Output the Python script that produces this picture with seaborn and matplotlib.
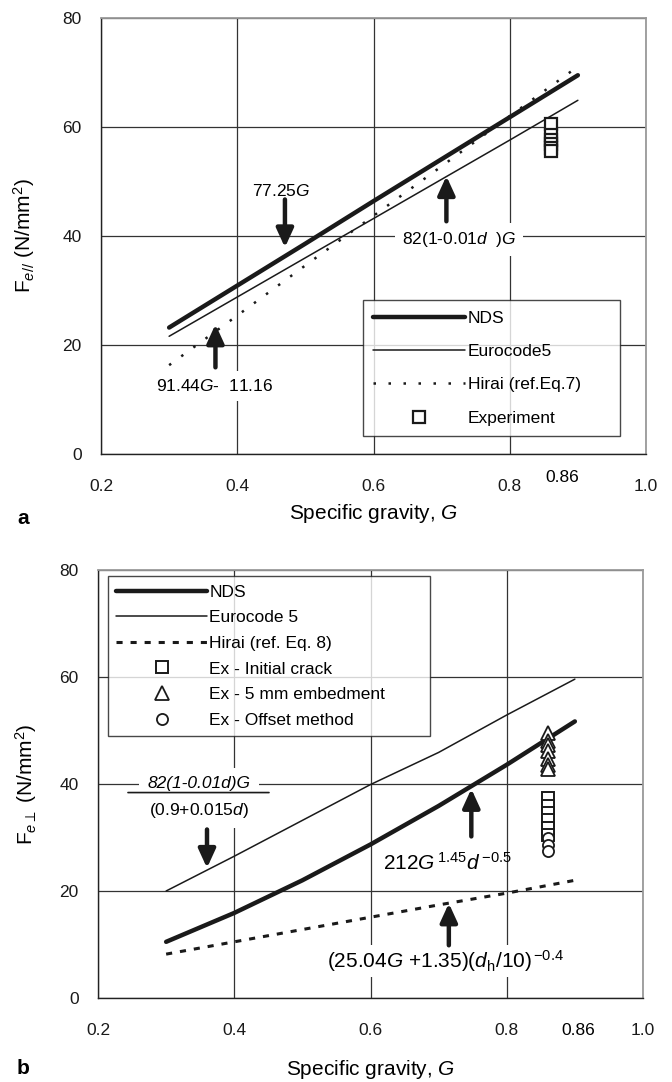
import numpy as np
import matplotlib
matplotlib.use("Agg")
import matplotlib.pyplot as plt
import matplotlib.transforms as mtransforms
import seaborn as sns

# valores
G = [0.3, 0.4, 0.5, 0.6, 0.7, 0.8, 0.9]
G_exp = 0.86

# panel a: resistencia paralela
nds_a = [23.2, 30.9, 38.6, 46.4, 54.1, 61.8, 69.5]
euro_a = [21.6, 28.8, 36.0, 43.2, 50.4, 57.6, 64.9]
hirai_a = [16.3, 25.4, 34.6, 43.7, 52.8, 62.0, 71.1]
exp_a = [60.5, 58.5, 57.6, 56.8, 56.2, 55.6]

# panel b: resistencia perpendicular
nds_b = [10.5, 15.9, 22.0, 28.7, 35.9, 43.6, 51.7]
euro_b = [20.0, 26.5, 33.2, 39.9, 45.9, 52.9, 59.6]
hirai_b = [8.2, 10.5, 12.8, 15.1, 17.4, 19.6, 22.0]
crack_b = [37.4, 35.9, 34.6, 33.3, 31.8, 30.5]
embed_b = [49.5, 48.0, 47.2, 46.2, 44.7, 43.6, 42.8]
offset_b = [29.9, 28.6, 27.5]

xticks = [0.2, 0.4, 0.6, 0.8, 1.0]
xticklabels = ["0.2", "0.4", "0.6", "0.8", "1.0"]
yticks = [0, 20, 40, 60, 80]

sns.set_theme(style="white")
plt.rcParams["font.family"] = ["Liberation Sans", "DejaVu Sans"]
plt.rcParams["mathtext.fontset"] = "custom"
plt.rcParams["mathtext.rm"] = "Liberation Sans"
plt.rcParams["mathtext.it"] = "Liberation Sans:italic"
plt.rcParams["mathtext.bf"] = "Liberation Sans:bold"
plt.rcParams["text.color"] = "black"
plt.rcParams["axes.labelcolor"] = "black"
plt.rcParams["xtick.color"] = "black"
plt.rcParams["ytick.color"] = "black"

fig = plt.figure(figsize=(6.72, 10.82), dpi=100)
ax_a = fig.add_axes([101 / 672, 1 - 454 / 1082, 545 / 672, 436 / 1082])
ax_b = fig.add_axes([98 / 672, 1 - 998 / 1082, 545 / 672, 428 / 1082])

flecha = dict(arrowstyle="-|>,head_length=0.7,head_width=0.32", lw=3.2,
              color="k", shrinkA=0, shrinkB=0, mutation_scale=16)


def preparar_ejes(ax, ylabel, ylab_x, xlab_y):
    ax.set_xlim(0.2, 1.0)
    ax.set_ylim(0, 80)
    ax.set_xticks(xticks)
    ax.set_xticklabels(xticklabels)
    ax.set_yticks(yticks)
    ax.set_xticks([G_exp], minor=True)
    ax.tick_params(axis="both", which="major", direction="out", length=6,
                   width=1, color="#222222", labelsize=12.5, labelcolor="k")
    ax.tick_params(axis="x", which="major", pad=12)
    ax.tick_params(axis="y", which="major", pad=8)
    ax.grid(True, which="major", color="#333333", lw=0.9)
    ax.set_axisbelow(True)
    for lado in ["top", "right"]:
        ax.spines[lado].set_color("#9a9a9a")
        ax.spines[lado].set_linewidth(1.3)
    for lado in ["left", "bottom"]:
        ax.spines[lado].set_color("#222222")
        ax.spines[lado].set_linewidth(1.0)
    ax.set_xlabel("Specific gravity, $G$", fontsize=15)
    ax.set_ylabel(ylabel, fontsize=15)
    ax.xaxis.set_label_coords(0.5, xlab_y)
    ax.yaxis.set_label_coords(ylab_x, 0.5)


# ---------------- panel a ----------------
ax = ax_a
sns.lineplot(x=G, y=nds_a, ax=ax, color="k", lw=3.2, label="NDS")
sns.lineplot(x=G, y=euro_a, ax=ax, color="k", lw=1.1, label="Eurocode5")
sns.lineplot(x=G, y=hirai_a, ax=ax, color="k", lw=1.8,
             linestyle=(0, (1, 5)), label="Hirai (ref.Eq.7)")
sns.lineplot(x=[G_exp] * len(exp_a), y=exp_a, ax=ax, estimator=None, sort=False,
             marker="s", linestyle="", ms=8.5, mfc="white", mec="k", mew=1.6,
             color="k", label="Experiment")
preparar_ejes(ax, "F$_{e//}$ (N/mm$^2$)", -0.118, -0.11)
ax.tick_params(axis="x", which="minor", direction="inout", length=9,
               width=1.2, color="k")

leg = ax.legend(loc="upper left", bbox_to_anchor=(0.48, 0.353, 0.473, 0.0),
                mode="expand", borderaxespad=0, fontsize=12.5, handlelength=5.3,
                handletextpad=0.15, labelspacing=1.05, borderpad=0.6,
                frameon=True, fancybox=False, edgecolor="k")
leg.get_frame().set_linewidth(1.0)

ax.text(0.464, 48.2, "77.25$G$", fontsize=12.5, ha="center", va="center")
ax.annotate("", xy=(0.47, 37.9), xytext=(0.47, 46.7), arrowprops=flecha)
ax.text(0.726, 39.4, "82(1-0.01$d$  )$G$", fontsize=12.5, ha="center", va="center",
        bbox=dict(facecolor="white", edgecolor="none", pad=5))
ax.annotate("", xy=(0.707, 51.0), xytext=(0.707, 42.7), arrowprops=flecha)
ax.text(0.366, 12.5, "91.44$G$-  11.16", fontsize=12.5, ha="center", va="center",
        bbox=dict(facecolor="white", edgecolor="none", pad=5))
ax.annotate("", xy=(0.368, 23.8), xytext=(0.368, 15.9), arrowprops=flecha)

trans_a = mtransforms.blended_transform_factory(ax.transData, ax.transAxes)
ax.text(0.877, -0.054, "0.86", transform=trans_a, fontsize=12.5,
        ha="center", va="center")

# ---------------- panel b ----------------
ax = ax_b
sns.lineplot(x=G, y=nds_b, ax=ax, color="k", lw=3.2, label="NDS")
sns.lineplot(x=G, y=euro_b, ax=ax, color="k", lw=1.1, label="Eurocode 5")
sns.lineplot(x=G, y=hirai_b, ax=ax, color="k", lw=2.2,
             linestyle=(0, (2, 2.6)), label="Hirai (ref. Eq. 8)")
sns.lineplot(x=[G_exp] * len(crack_b), y=crack_b, ax=ax, estimator=None, sort=False,
             marker="s", linestyle="", ms=8, mfc="white", mec="k", mew=1.4,
             color="k", label="Ex - Initial crack")
sns.lineplot(x=[G_exp] * len(embed_b), y=embed_b, ax=ax, estimator=None, sort=False,
             marker="^", linestyle="", ms=10, mfc="white", mec="k", mew=1.3,
             color="k", label="Ex - 5 mm embedment")
sns.lineplot(x=[G_exp] * len(offset_b), y=offset_b, ax=ax, estimator=None, sort=False,
             marker="o", linestyle="", ms=8, mfc="white", mec="k", mew=1.3,
             color="k", label="Ex - Offset method")
preparar_ejes(ax, r"F$_{e\perp}$ (N/mm$^2$)", -0.108, -0.14)
ax.tick_params(axis="x", which="minor", direction="inout", length=16,
               width=1.2, color="k")

leg = ax.legend(loc="upper left", bbox_to_anchor=(0.018, 0.986, 0.591, 0.0),
                mode="expand", borderaxespad=0, fontsize=12.5, handlelength=5.2,
                handletextpad=0.15, labelspacing=0.6, borderpad=0.5,
                frameon=True, fancybox=False, edgecolor="k")
leg.get_frame().set_linewidth(1.0)

ax.text(0.348, 40.1, "82(1-0.01d)G", fontsize=12.5, style="italic",
        ha="center", va="center",
        bbox=dict(facecolor="white", edgecolor="none", pad=6))
ax.text(0.348, 35.1, "(0.9+0.015$d$)", fontsize=12.5, ha="center", va="center",
        bbox=dict(facecolor="white", edgecolor="none", pad=6))
ax.annotate("", xy=(0.451, 38.4), xytext=(0.244, 38.4),
            arrowprops=dict(arrowstyle="-", lw=1.2, color="k",
                            shrinkA=0, shrinkB=0))
ax.annotate("", xy=(0.36, 24.3), xytext=(0.36, 31.5), arrowprops=flecha)

ax.text(0.713, 25.3, "212$G^{\\,1.45}d^{\\,\\mathrm{-}0.5}$", fontsize=15,
        ha="center", va="center")
ax.annotate("", xy=(0.748, 39.1), xytext=(0.748, 30.2), arrowprops=flecha)

ax.text(0.71, 6.9, "(25.04$G$ +1.35)($d_{\\rm h}$/10)$^{\\,\\mathrm{-}0.4}$", fontsize=15,
        ha="center", va="center",
        bbox=dict(facecolor="white", edgecolor="none", pad=2))
ax.annotate("", xy=(0.715, 17.7), xytext=(0.715, 9.85), arrowprops=flecha)

trans_b = mtransforms.blended_transform_factory(ax.transData, ax.transAxes)
ax.text(0.905, -0.075, "0.86", transform=trans_b, fontsize=12.5,
        ha="center", va="center")

# etiquetas de panel
fig.text(17 / 672, 1 - 518 / 1082, "a", fontsize=15, fontweight="bold",
         ha="left", va="center")
fig.text(17 / 672, 1 - 1068 / 1082, "b", fontsize=15, fontweight="bold",
         ha="left", va="center")

fig.savefig("out.png", dpi=100)
